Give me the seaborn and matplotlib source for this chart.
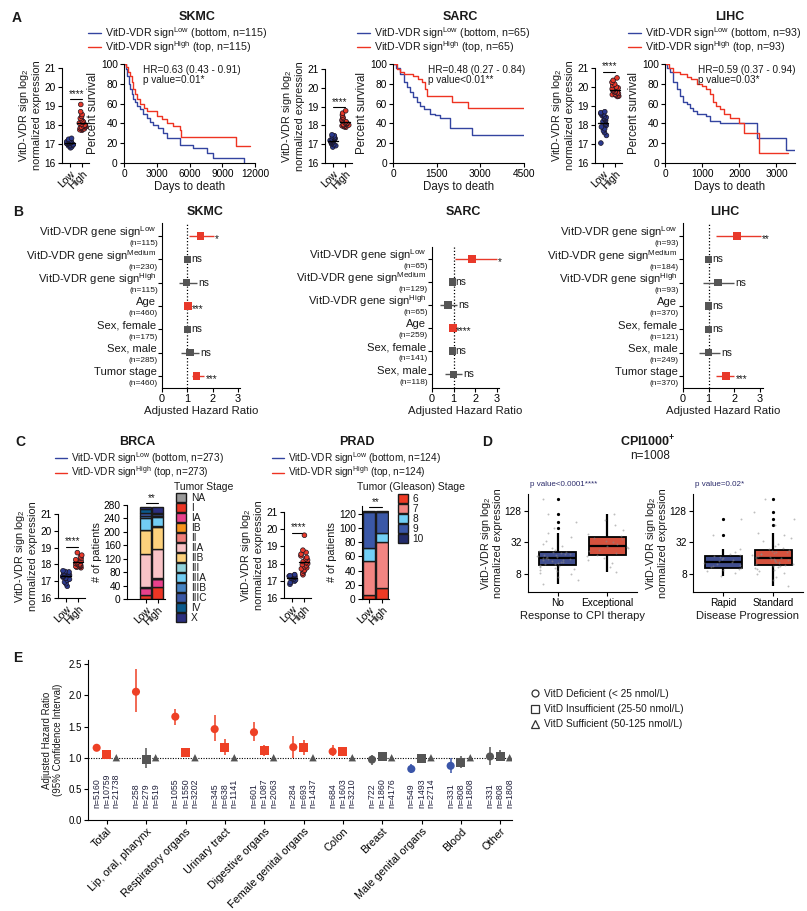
import numpy as np
import pandas as pd
import matplotlib
matplotlib.use("Agg")
import matplotlib.pyplot as plt
import seaborn as sns
from matplotlib.lines import Line2D
from matplotlib.patches import Patch
from matplotlib.ticker import NullLocator

sns.set_theme(style="ticks")
plt.rcParams["font.family"] = ["Liberation Sans", "DejaVu Sans"]
plt.rcParams["mathtext.fontset"] = "custom"
plt.rcParams["mathtext.rm"] = "Liberation Sans"
plt.rcParams["mathtext.it"] = "Liberation Sans:italic"
plt.rcParams["mathtext.bf"] = "Liberation Sans:bold"
plt.rcParams["axes.linewidth"] = 0.8
plt.rcParams["axes.edgecolor"] = "black"
plt.rcParams["xtick.color"] = "black"
plt.rcParams["ytick.color"] = "black"
plt.rcParams["xtick.major.width"] = 0.8
plt.rcParams["ytick.major.width"] = 0.8
plt.rcParams["xtick.major.size"] = 3
plt.rcParams["ytick.major.size"] = 3
plt.rcParams["xtick.major.pad"] = 1.5
plt.rcParams["ytick.major.pad"] = 1.5
plt.rcParams["xtick.labelsize"] = 7
plt.rcParams["ytick.labelsize"] = 7
plt.rcParams["axes.labelcolor"] = "#1a1a1a"
plt.rcParams["text.color"] = "#1a1a1a"
np.random.seed(3)

RED = "#e8392a"
BLUE = "#34479c"
GRAY = "#555555"
KM_BLUE = "#3344a0"
KM_RED = "#ee3322"

# ---------------- data: panel A ----------------
skmc_low = [16.80, 16.85, 16.90, 16.92, 16.95, 16.97, 17.00, 17.00, 17.02, 17.03, 17.05,
            17.05, 17.07, 17.08, 17.10, 17.10, 17.12, 17.15, 17.18, 17.20, 17.25, 17.30]
skmc_high = [17.72, 17.75, 17.78, 17.80, 17.82, 17.85, 17.88, 17.90, 17.92, 17.95, 17.98,
             18.00, 18.05, 18.10, 18.15, 18.20, 18.28, 18.35, 18.45, 18.55, 18.70, 19.08]
sarc_low = [16.85, 16.92, 16.98, 17.02, 17.06, 17.10, 17.12, 17.15, 17.18, 17.20, 17.22,
            17.25, 17.28, 17.30, 17.33, 17.36, 17.40, 17.45, 17.50]
sarc_high = [17.90, 17.93, 17.96, 17.98, 18.00, 18.02, 18.05, 18.08, 18.10, 18.12, 18.15,
             18.20, 18.25, 18.30, 18.38, 18.45, 18.55, 18.65, 18.78]
lihc_low = [17.05, 17.45, 17.60, 17.70, 17.80, 17.90, 17.98, 18.05, 18.12, 18.18, 18.24,
            18.30, 18.35, 18.40, 18.45, 18.50, 18.55, 18.60, 18.65, 18.70]
lihc_high = [19.50, 19.52, 19.55, 19.58, 19.60, 19.63, 19.66, 19.70, 19.73, 19.76, 19.80,
             19.85, 19.90, 19.95, 20.00, 20.08, 20.15, 20.25, 20.35, 20.48]

skmc_low_t = [0, 150, 300, 450, 550, 700, 850, 1000, 1200, 1470, 1700, 2080, 2400, 2700,
              3100, 3600, 3900, 5100, 6350, 7570, 8180, 10900, 11000]
skmc_low_s = [100, 95, 88, 80, 75, 70, 65, 62, 58, 55, 50, 45, 41, 38, 35, 30, 25, 18, 15,
              10, 5, 5, 0]
skmc_high_t = [0, 200, 400, 550, 700, 850, 1000, 1200, 1470, 1800, 2080, 2500, 3000, 3500,
               3900, 4500, 5130, 5250, 10300, 11500]
skmc_high_s = [100, 97, 92, 88, 82, 75, 70, 65, 60, 56, 53, 53, 47, 44, 40, 37, 33, 26, 17, 17]
sarc_low_t = [0, 100, 250, 365, 480, 600, 700, 820, 940, 1050, 1280, 1450, 1620, 1960, 2700, 4500]
sarc_low_s = [100, 96, 90, 82, 77, 72, 67, 62, 58, 55, 50, 48, 45, 35, 28, 28]
sarc_high_t = [0, 137, 250, 365, 700, 850, 990, 1100, 1165, 2020, 2590, 4500]
sarc_high_s = [100, 95, 92, 90, 88, 85, 82, 75, 68, 62, 56, 56]
lihc_low_t = [0, 60, 130, 220, 310, 400, 490, 580, 670, 760, 850, 1110, 1200, 1470, 2490,
              3250, 3500]
lihc_low_s = [100, 96, 92, 82, 75, 68, 62, 60, 56, 53, 50, 47, 42, 40, 25, 13, 13]
lihc_high_t = [0, 100, 220, 400, 580, 700, 850, 1000, 1110, 1200, 1290, 1380, 1470, 1600,
               1740, 2000, 2140, 2540, 3300]
lihc_high_s = [100, 96, 92, 90, 87, 85, 80, 78, 75, 70, 62, 58, 55, 50, 45, 40, 30, 10, 10]

# ---------------- data: panel B ----------------
b_labels = ["VitD-VDR gene sign$^{\\mathrm{Low}}$", "VitD-VDR gene sign$^{\\mathrm{Medium}}$",
            "VitD-VDR gene sign$^{\\mathrm{High}}$", "Age", "Sex, female", "Sex, male",
            "Tumor stage"]
skmc_n = ["(n=115)", "(n=230)", "(n=115)", "(n=460)", "(n=175)", "(n=285)", "(n=460)"]
skmc_hr = [1.52, 1.00, 0.97, 1.03, 1.00, 1.10, 1.36]
skmc_lo = [1.07, 1.00, 0.68, 0.98, 1.00, 0.77, 1.17]
skmc_hi = [2.04, 1.00, 1.37, 1.07, 1.00, 1.47, 1.67]
skmc_ann = ["*", "ns", "ns", "***", "ns", "ns", "***"]
sarc_n = ["(n=65)", "(n=129)", "(n=65)", "(n=259)", "(n=141)", "(n=118)"]
sarc_hr = [1.86, 0.95, 0.75, 0.98, 0.95, 1.00]
sarc_lo = [1.08, 0.95, 0.36, 0.96, 0.95, 0.59]
sarc_hi = [3.00, 0.95, 1.18, 1.00, 0.95, 1.41]
sarc_ann = ["*", "ns", "ns", "****", "ns", "ns"]
lihc_n = ["(n=93)", "(n=184)", "(n=93)", "(n=370)", "(n=121)", "(n=249)", "(n=370)"]
lihc_hr = [2.10, 0.99, 1.36, 0.99, 0.99, 0.99, 1.67]
lihc_lo = [1.28, 0.99, 0.78, 0.99, 0.99, 0.63, 1.30]
lihc_hi = [3.02, 0.99, 2.00, 0.99, 0.99, 1.43, 2.00]
lihc_ann = ["**", "ns", "ns", "ns", "ns", "ns", "***"]

# ---------------- data: panel C ----------------
brca_low = [16.70, 16.85, 16.95, 17.05, 17.12, 17.18, 17.24, 17.28, 17.32, 17.36, 17.40,
            17.43, 17.46, 17.49, 17.52, 17.55, 17.58, 17.62]
brca_high = [17.80, 17.83, 17.86, 17.88, 17.90, 17.93, 17.96, 18.00, 18.03, 18.06, 18.10,
             18.15, 18.20, 18.28, 18.36, 18.45, 18.55, 18.70]
prad_low = [16.80, 16.90, 16.98, 17.05, 17.10, 17.14, 17.18, 17.21, 17.24, 17.27, 17.30,
            17.33, 17.36]
prad_high = [17.35, 17.45, 17.55, 17.62, 17.70, 17.76, 17.82, 17.88, 17.94, 18.00, 18.06,
             18.12, 18.20, 18.28, 18.36, 18.45, 18.55, 18.65, 18.78, 19.65]

brca_stages = ["NA", "I", "IA", "IB", "II", "IIA", "IIB", "III", "IIIA", "IIIB", "IIIC", "IV", "X"]
brca_colors = ["#9a9a9a", "#ec3524", "#e9418c", "#f7941d", "#f07f7a", "#f9c3c6", "#fdd17c",
               "#92d3dc", "#72cdf4", "#4683c3", "#3a57a5", "#0b5a8c", "#2b2f7f"]
brca_low_n = [1, 12, 21, 1, 1, 97, 72, 1, 34, 8, 9, 10, 6]
brca_high_n = [1, 36, 23, 1, 1, 86, 67, 1, 28, 4, 5, 3, 17]
prad_stages = ["6", "7", "8", "9", "10"]
prad_colors = ["#ee3a24", "#f28582", "#72cff5", "#3b58a7", "#232c6b"]
prad_low_n = [5, 48, 19, 50, 2]
prad_high_n = [16, 64, 13, 29, 2]

# ---------------- data: panel D ----------------
cpi_no = [5.2, 6.2, 7.0, 7.8, 8.4, 9.0, 9.5, 10.0, 10.4, 10.8, 11.1, 11.4,
          11.7, 12.1, 12.5, 12.9, 13.3, 13.7, 14.1, 14.5, 14.9, 15.2, 15.5, 15.8,
          16.1, 16.5, 16.9, 17.3, 17.8, 18.2, 18.6, 19.1, 19.6, 20.1, 20.6, 21.1,
          21.8, 23.0, 24.5, 27.0, 30.0, 34.0, 40.0, 48.0, 60.0, 80.0, 110.0, 219.0]
cpi_exc = [8.5, 11.0, 13.0, 14.5, 16.0, 17.5, 18.5, 20.0, 21.5, 23.0, 24.5, 26.0,
           27.5, 29.5, 32.0, 34.5, 37.0, 39.5, 42.0, 47.0, 55.0, 68.0, 85.0, 114.0]
cpi_rapid = [7.35, 8.2, 8.9, 9.4, 9.8, 10.2, 10.6, 11.2, 11.8, 12.4, 13.0, 13.6,
             13.9, 14.5, 15.2, 15.9, 16.6, 17.4, 18.2, 19.5, 21.0, 23.9, 44.0, 88.0]
cpi_std = [4.6, 6.0, 7.0, 7.8, 8.4, 9.0, 9.5, 10.0, 10.4, 10.8, 11.1, 11.4,
           11.7, 12.1, 12.5, 12.9, 13.3, 13.7, 14.1, 14.5, 14.9, 15.2, 15.5, 15.8,
           16.2, 16.7, 17.2, 17.8, 18.3, 18.9, 19.5, 20.1, 20.7, 21.3, 22.0, 22.7,
           23.5, 25.0, 27.0, 30.0, 34.0, 39.0, 45.0, 47.5, 70.0, 90.0, 120.0, 219.0]

# ---------------- data: panel E ----------------
e_cats = ["Total", "Lip, oral, pharynx", "Respiratory organs", "Urinary tract",
          "Digestive organs", "Female genital organs", "Colon", "Breast",
          "Male genital organs", "Blood", "Other"]
def_hr = [1.16, 2.06, 1.66, 1.46, 1.41, 1.17, 1.10, 0.97, 0.82, 0.87, 1.02]
def_lo = [1.13, 1.74, 1.53, 1.27, 1.27, 1.00, 1.02, 0.88, 0.76, 0.75, 0.89]
def_hi = [1.19, 2.42, 1.79, 1.68, 1.57, 1.35, 1.20, 1.05, 0.90, 0.99, 1.17]
def_st = ["up", "up", "up", "up", "up", "up", "up", "ns", "down", "down", "ns"]
ins_hr = [1.05, 0.97, 1.08, 1.16, 1.11, 1.16, 1.10, 1.02, 0.98, 0.93, 1.02]
ins_lo = [1.03, 0.83, 1.02, 1.05, 1.02, 1.05, 1.03, 0.97, 0.93, 0.83, 0.94]
ins_hi = [1.07, 1.16, 1.16, 1.30, 1.20, 1.28, 1.18, 1.07, 1.03, 1.02, 1.12]
ins_st = ["up", "ns", "up", "up", "up", "up", "up", "ns", "ns", "ns", "ns"]
suf_hr = [1.0] * 11
def_n = [5160, 258, 1055, 345, 601, 284, 684, 722, 549, 331, 331]
ins_n = [10759, 279, 1550, 638, 1087, 693, 1603, 1860, 1493, 808, 808]
suf_n = [21738, 519, 3202, 1141, 2063, 1437, 3210, 4176, 2714, 1808, 1808]

# ---------------- layout helpers ----------------
W, H = 807, 911
fig = plt.figure(figsize=(W / 100, H / 100), dpi=100)


def add_ax(l, t, r, b):
    return fig.add_axes([l / W, 1 - b / H, (r - l) / W, (b - t) / H])


def ftext(x, y, s, **kw):
    fig.text(x / W, 1 - y / H, s, **kw)


def rot_labels(ax):
    for lab in ax.get_xticklabels():
        lab.set_rotation(45)
        lab.set_ha("right")
        lab.set_rotation_mode("anchor")


def expr_panel(ax, low, high, bar_y):
    df = pd.DataFrame({"grp": ["Low"] * len(low) + ["High"] * len(high), "val": low + high})
    sns.stripplot(data=df, x="grp", y="val", hue="grp", palette={"Low": "#2b3a8f", "High": RED},
                  jitter=0.3, size=3.4, linewidth=0.5, edgecolor="#1a1420", legend=False, ax=ax)
    for i, vals in enumerate([low, high]):
        m = np.mean(vals)
        ax.plot([i - 0.4, i + 0.4], [m, m], color="black", lw=1, zorder=5)
    ax.plot([0, 1], [bar_y, bar_y], color="black", lw=0.8, clip_on=False)
    ax.text(0.5, bar_y + 0.02, "****", ha="center", va="bottom", fontsize=7, clip_on=False)
    ax.set_ylim(16, 21)
    ax.set_xlim(-0.67, 1.55)
    ax.set_yticks(range(16, 22))
    ax.set_xlabel("")
    ax.set_ylabel("VitD-VDR sign log$_2$\nnormalized expression", fontsize=7.8, labelpad=2,
                  linespacing=1.1)
    ax.tick_params(axis="x", labelsize=7.5)
    ax.tick_params(axis="y", labelsize=7.3)
    rot_labels(ax)
    sns.despine(ax=ax)


def km_panel(ax, tl, sl, th, sh, xmax, xticks, hr_text, tx):
    sns.lineplot(x=tl, y=sl, drawstyle="steps-post", color=KM_BLUE, lw=1, estimator=None,
                 errorbar=None, ax=ax)
    sns.lineplot(x=th, y=sh, drawstyle="steps-post", color=KM_RED, lw=1, estimator=None,
                 errorbar=None, ax=ax)
    ax.set_xlim(0, xmax)
    ax.set_ylim(0, 100)
    ax.set_xticks(xticks)
    ax.set_yticks(range(0, 101, 20))
    ax.tick_params(axis="both", labelsize=7.3)
    ax.set_xlabel("Days to death", fontsize=8.3, labelpad=1)
    ax.set_ylabel("Percent survival", fontsize=8.3, labelpad=1)
    ax.text(tx, 0.99, hr_text, transform=ax.transAxes, va="top", ha="left", fontsize=7.2,
            linespacing=1.05)
    sns.despine(ax=ax)


def km_legend(ax, x, y, n, fs=7.7, sep=-0.15):
    handles = [Line2D([], [], color=KM_BLUE, lw=1), Line2D([], [], color=KM_RED, lw=1)]
    labels = ["VitD-VDR sign$^{\\mathrm{Low}}$ (bottom, n=%d)" % n,
              "VitD-VDR sign$^{\\mathrm{High}}$ (top, n=%d)" % n]
    leg = ax.legend(handles, labels, loc="upper left", bbox_to_anchor=(x / W, 1 - y / H),
                    bbox_transform=fig.transFigure, frameon=False, fontsize=fs,
                    handlelength=1.2, handletextpad=0.4, labelspacing=sep, borderpad=0,
                    borderaxespad=0)
    return leg


def forest(ax, n_labels, hr, lo, hi, ann, ylim):
    rows = np.arange(len(n_labels))
    sig = ["ns" if a == "ns" else "sig" for a in ann]
    cols = [RED if s == "sig" else GRAY for s in sig]
    ax.axvline(1, color="black", lw=0.9, ls=(0, (1, 1.6)), zorder=0)
    ax.hlines(rows, lo, hi, colors=cols, lw=1)
    sns.scatterplot(x=hr, y=rows, hue=sig, palette={"sig": RED, "ns": GRAY}, marker="s", s=28,
                    linewidth=0, legend=False, ax=ax, zorder=3)
    for r, h, u, a in zip(rows, hr, hi, ann):
        x = max(u, h + 0.1) + 0.05
        dy = 0.13 if a != "ns" else 0.0
        ax.text(x, r + dy, a, ha="left", va="center", fontsize=7.3)
    for r, lab, nl in zip(rows, b_labels, n_labels):
        ax.annotate(lab, xy=(0, r - 0.16), xycoords=ax.get_yaxis_transform(), xytext=(-4, 0),
                    textcoords="offset points", ha="right", va="center", fontsize=8.1)
        ax.annotate(nl, xy=(0, r + 0.34), xycoords=ax.get_yaxis_transform(), xytext=(-3, 0),
                    textcoords="offset points", ha="right", va="center", fontsize=6.0)
    ax.set_xlim(0, 3.1)
    ax.set_ylim(*ylim)
    ax.set_yticks(rows)
    ax.set_yticklabels([])
    ax.set_xticks([0, 1, 2, 3])
    ax.tick_params(axis="x", labelsize=7.8)
    ax.set_xlabel("Adjusted Hazard Ratio", fontsize=8.2, labelpad=1)
    ax.set_ylabel("")
    sns.despine(ax=ax)


def stage_bars(ax, low_n, high_n, colors, ymax, yticks, bracket_y):
    bottoms = np.zeros(2)
    for a, b, c in zip(low_n, high_n, colors):
        ax.bar([0, 1], [a, b], bottom=bottoms, width=0.95, color=c, edgecolor="#1a1a1a",
               linewidth=1.0)
        bottoms += np.array([a, b])
    ax.plot([0, 1], [bracket_y, bracket_y], color="black", lw=0.8, clip_on=False)
    ax.text(0.5, bracket_y, "**", ha="center", va="bottom", fontsize=7, clip_on=False)
    ax.set_ylim(0, ymax)
    ax.set_yticks(yticks)
    ax.set_xticks([0, 1])
    ax.set_xticklabels(["Low", "High"])
    ax.tick_params(axis="x", labelsize=7.5)
    ax.tick_params(axis="y", labelsize=7.3)
    rot_labels(ax)
    ax.set_ylabel("# of patients", fontsize=7.8, labelpad=1)
    sns.despine(ax=ax)


def stage_legend(ax, stages, colors, x, y, title, tx):
    handles = [Patch(facecolor=c, edgecolor="#1a1a1a", linewidth=1) for c in colors]
    ax.legend(handles, stages, loc="upper left", bbox_to_anchor=(x / W, 1 - y / H),
              bbox_transform=fig.transFigure, frameon=False, fontsize=7.3, handlelength=0.95,
              handleheight=0.95, labelspacing=0.0, handletextpad=0.5, borderpad=0,
              borderaxespad=0)
    ftext(tx, 487, title, ha="center", va="center", fontsize=7.5)


def cpi_panel(ax, cats, groups, colors, ptxt, xlabel):
    df = pd.DataFrame({"grp": np.repeat(cats, [len(g) for g in groups]),
                       "val": np.concatenate(groups)})
    sns.boxplot(data=df, x="grp", y="val", hue="grp", order=cats, hue_order=cats,
                palette=dict(zip(cats, colors)), log_scale=2, width=0.74, linecolor="black",
                linewidth=1.3, fliersize=1.3, legend=False, ax=ax,
                flierprops=dict(marker="o", markerfacecolor="black", markeredgecolor="black"),
                capprops=dict(linewidth=0), whiskerprops=dict(linewidth=1.6),
                medianprops=dict(linewidth=1.6))
    sns.stripplot(data=df, x="grp", y="val", order=cats, color="#8a8a8a", size=1.4, alpha=0.55,
                  jitter=0.42, ax=ax, zorder=4)
    ax.set_xlim(-0.6, 1.6)
    ax.set_ylim(3.6, 270)
    ax.set_yticks([8, 32, 128])
    ax.set_yticklabels(["8", "32", "128"])
    ax.yaxis.set_minor_locator(NullLocator())
    ax.tick_params(axis="both", labelsize=7.3)
    ax.set_xlabel(xlabel, fontsize=8, labelpad=2)
    ax.set_ylabel("VitD-VDR sign log$_2$\nnormalized expression", fontsize=7.8, labelpad=1,
                  linespacing=1.1)
    ax.text(0.02, 1.06, ptxt, transform=ax.transAxes, fontsize=5.8, color="#2b2b6b",
            ha="left", va="bottom")
    sns.despine(ax=ax)


# ---------------- panel A ----------------
ftext(17, 18, "A", fontsize=10, fontweight="bold", ha="center", va="center")
for name, cx in [("SKMC", 197), ("SARC", 460), ("LIHC", 730)]:
    ftext(cx, 17, name, fontsize=9, fontweight="bold", ha="center", va="center")

ax = add_ax(62, 68, 89, 163)
expr_panel(ax, skmc_low, skmc_high, 19.37)
ax = add_ax(124, 64, 255, 163)
km_panel(ax, skmc_low_t, skmc_low_s, skmc_high_t, skmc_high_s, 12000,
         [0, 3000, 6000, 9000, 12000], "HR=0.63 (0.43 - 0.91)\np value=0.01*", 0.145)
km_legend(ax, 88, 25, 115)

ax = add_ax(325, 69, 352, 163)
expr_panel(ax, sarc_low, sarc_high, 18.97)
ax = add_ax(393, 64, 524, 163)
km_panel(ax, sarc_low_t, sarc_low_s, sarc_high_t, sarc_high_s, 4500,
         [0, 1500, 3000, 4500], "HR=0.48 (0.27 - 0.84)\np value<0.01**", 0.27)
km_legend(ax, 357, 25, 65)

ax = add_ax(595, 68, 622, 163)
expr_panel(ax, lihc_low, lihc_high, 20.8)
ax = add_ax(665, 64, 795, 163)
km_panel(ax, lihc_low_t, lihc_low_s, lihc_high_t, lihc_high_s, 3500,
         [0, 1000, 2000, 3000], "HR=0.59 (0.37 - 0.94)\np value=0.03*", 0.25)
km_legend(ax, 628, 25, 93)

# ---------------- panel B ----------------
ftext(18, 212, "B", fontsize=10, fontweight="bold", ha="center", va="center")
ftext(205, 212, "SKMC", fontsize=9, fontweight="bold", ha="center", va="center")
ftext(463, 212, "SARC", fontsize=9, fontweight="bold", ha="center", va="center")
ftext(725, 212, "LIHC", fontsize=9, fontweight="bold", ha="center", va="center")

ax = add_ax(162, 223, 240.5, 388)
forest(ax, skmc_n, skmc_hr, skmc_lo, skmc_hi, skmc_ann, (6.52, -0.56))
ax = add_ax(432, 247, 498.7, 388)
forest(ax, sarc_n, sarc_hr, sarc_lo, sarc_hi, sarc_ann, (5.6, -0.52))
ax = add_ax(683, 223, 762.7, 388)
forest(ax, lihc_n, lihc_hr, lihc_lo, lihc_hi, lihc_ann, (6.52, -0.56))

# ---------------- panel C ----------------
ftext(20, 442, "C", fontsize=10, fontweight="bold", ha="center", va="center")
ftext(137, 442, "BRCA", fontsize=9, fontweight="bold", ha="center", va="center")
ftext(357, 442, "PRAD", fontsize=9, fontweight="bold", ha="center", va="center")

ax = add_ax(58, 514, 85, 598)
expr_panel(ax, brca_low, brca_high, 19.05)
km_legend(ax, 55, 450, 273, fs=7.2, sep=-0.15)
ax = add_ax(127, 505, 165, 599)
stage_bars(ax, brca_low_n, brca_high_n, brca_colors, 280, range(0, 281, 40), 286)
ax.set_xlim(-1.54, 1.62)
stage_legend(ax, brca_stages, brca_colors, 176, 493, "Tumor Stage", 204)

ax = add_ax(284, 512, 311, 598)
expr_panel(ax, prad_low, prad_high, 19.8)
km_legend(ax, 272, 450, 124, fs=7.2, sep=-0.15)
ax = add_ax(362, 506, 389, 599)
stage_bars(ax, prad_low_n, prad_high_n, prad_colors, 131, range(0, 121, 20), 130)
ax.set_xlim(-0.54, 1.54)
stage_legend(ax, prad_stages, prad_colors, 398, 494, "Tumor (Gleason) Stage", 411)

# ---------------- panel D ----------------
ftext(487, 442, "D", fontsize=10, fontweight="bold", ha="center", va="center")
ftext(648, 442, "CPI1000$^{\\mathbf{+}}$", fontsize=9, fontweight="bold", ha="center",
      va="center")
ftext(650, 456, "n=1008", fontsize=8.5, ha="center", va="center")
ax = add_ax(528, 494, 637, 592)
cpi_panel(ax, ["No", "Exceptional"], [cpi_no, cpi_exc], [BLUE, "#ee4025"],
          "p value<0.0001****", "Response to CPI therapy")
ax = add_ax(693, 494, 803, 592)
cpi_panel(ax, ["Rapid", "Standard"], [cpi_rapid, cpi_std], [BLUE, "#ee4025"],
          "p value=0.02*", "Disease Progression")

# ---------------- panel E ----------------
ftext(18, 658, "E", fontsize=10, fontweight="bold", ha="center", va="center")
ax = add_ax(88, 660, 512, 820)
pal = {"up": "#ee4025", "ns": GRAY, "down": "#3a55a8"}
idx = np.arange(len(e_cats))
ax.axhline(1.0, color="black", lw=0.8, ls=(0, (1, 1.3)), zorder=0)
levels = [(-0.26, def_hr, def_lo, def_hi, def_st, "o", 34, def_n),
          (0.0, ins_hr, ins_lo, ins_hi, ins_st, "s", 42, ins_n),
          (0.24, suf_hr, suf_hr, suf_hr, ["ns"] * 11, "^", 28, suf_n)]
for off, hr, lo, hi, st, mk, sz, nn in levels:
    xs = idx + off
    ax.vlines(xs, lo, hi, colors=[pal[s] for s in st], lw=1.1)
    sns.scatterplot(x=xs, y=hr, hue=st, palette=pal, marker=mk, s=sz, linewidth=0,
                    legend=False, ax=ax, zorder=3)
    for x, n in zip(xs, nn):
        ax.text(x, 0.19, "n=%d" % n, rotation=90, ha="center", va="bottom", fontsize=6.3,
                color="#1f1f3a")
ax.set_xlim(-0.48, 10.3)
ax.set_ylim(0, 2.57)
ax.set_yticks([0, 0.5, 1.0, 1.5, 2.0, 2.5])
ax.set_yticklabels(["0.0", "0.5", "1.0", "1.5", "2.0", "2.5"])
ax.set_xticks(idx)
ax.set_xticklabels(e_cats)
ax.tick_params(axis="x", labelsize=7.8)
ax.tick_params(axis="y", labelsize=7)
rot_labels(ax)
ax.set_ylabel("Adjusted Hazard Ratio\n(95% Confidence Interval)", fontsize=7, labelpad=4,
              linespacing=1.1)
sns.despine(ax=ax)
mk_handles = [Line2D([], [], marker=m, ls="", mfc="white", mec="#333333", mew=0.9, ms=ms)
              for m, ms in [("o", 5), ("s", 5.5), ("^", 5.5)]]
ax.legend(mk_handles, ["VitD Deficient (< 25 nmol/L)", "VitD Insufficient (25-50 nmol/L)",
                       "VitD Sufficient (50-125 nmol/L)"],
          loc="upper left", bbox_to_anchor=(530 / W, 1 - 689 / H), bbox_transform=fig.transFigure,
          frameon=False, fontsize=7.3, handlelength=1.0, handletextpad=0.4, labelspacing=0.5,
          borderpad=0, borderaxespad=0)

fig.savefig("out.png", dpi=100)
